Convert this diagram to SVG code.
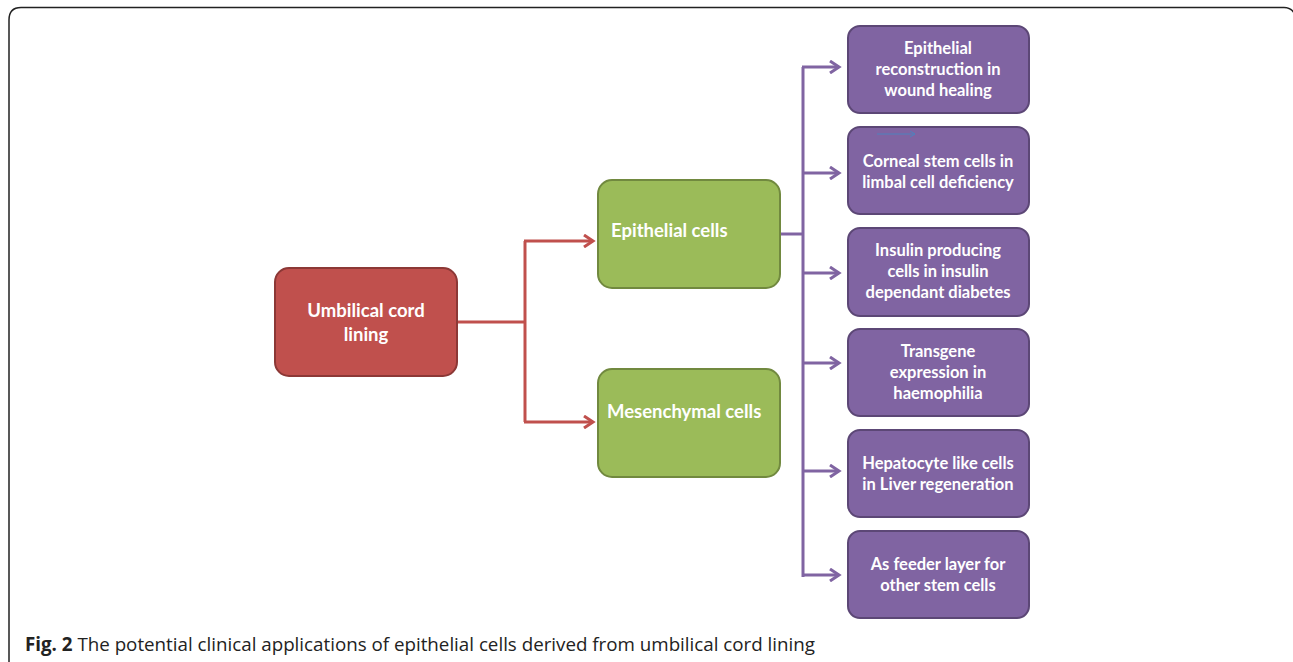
<svg xmlns="http://www.w3.org/2000/svg" width="1293" height="662" viewBox="0 0 1293 662">
<style>
.t{font-family:Lato,"Open Sans","Liberation Sans",sans-serif;font-weight:bold;fill:#fff}
.p rect{fill:#8064A2;stroke:#5C4776;stroke-width:2}
.g rect{fill:#9BBB59;stroke:#71893F;stroke-width:2}
.r rect{fill:#C0504D;stroke:#8C3836;stroke-width:2}
.pt{font-size:16.5px;text-anchor:middle}
.bt{font-size:18.5px}
.rl{fill:none;stroke:#C0504D;stroke-width:3}
.pl{fill:none;stroke:#8064A2;stroke-width:3}
</style>
<defs>
<marker id="ar" markerWidth="14" markerHeight="14" refX="11" refY="7" orient="auto" markerUnits="userSpaceOnUse">
<path d="M2,1 L11,7 L2,13" fill="none" stroke="#C0504D" stroke-width="3"/>
</marker>
<marker id="ap" markerWidth="14" markerHeight="14" refX="11" refY="7" orient="auto" markerUnits="userSpaceOnUse">
<path d="M2,1 L11,7 L2,13" fill="none" stroke="#8064A2" stroke-width="3"/>
</marker>
<marker id="ab" markerWidth="8" markerHeight="8" refX="6" refY="4" orient="auto" markerUnits="userSpaceOnUse">
<path d="M1,1 L6,4 L1,7" fill="none" stroke="#4F81BD" stroke-width="1"/>
</marker>
</defs>
<rect width="1293" height="662" fill="#fff"/>
<path d="M9,662 L9,20 Q9,7.5 21,7.5 L1284,7.5 Q1291,7.5 1294,13" fill="none" stroke="#222" stroke-width="1.5"/>

<g id="connectors">
<path class="rl" d="M457,322 H525"/>
<path class="rl" d="M525,241 V422"/>
<path class="rl" d="M524,241 H593" marker-end="url(#ar)"/>
<path class="rl" d="M524,422 H593" marker-end="url(#ar)"/>
<path class="pl" d="M780,234 H803"/>
<path class="pl" d="M803,67 V577"/>
<path class="pl" d="M802,67 H839" marker-end="url(#ap)"/>
<path class="pl" d="M802,173 H839" marker-end="url(#ap)"/>
<path class="pl" d="M802,273 H839" marker-end="url(#ap)"/>
<path class="pl" d="M802,363 H839" marker-end="url(#ap)"/>
<path class="pl" d="M802,471 H839" marker-end="url(#ap)"/>
<path class="pl" d="M802,575 H839" marker-end="url(#ap)"/>
</g>

<g id="umbilical" class="r">
<rect x="275" y="268" width="182" height="108" rx="14"/>
<text class="t bt" x="366" y="317" text-anchor="middle">Umbilical cord</text>
<text class="t bt" x="366" y="341" text-anchor="middle">lining</text>
</g>
<g id="epithelial" class="g">
<rect x="598" y="180" width="182" height="108" rx="14"/>
<text class="t bt" x="611" y="237">Epithelial cells</text>
</g>
<g id="mesenchymal" class="g">
<rect x="598" y="369" width="182" height="108" rx="14"/>
<text class="t bt" x="607" y="418">Mesenchymal cells</text>
</g>

<g id="app1" class="p">
<rect x="848" y="26" width="181" height="87" rx="12"/>
<text class="t pt" x="938" y="54">Epithelial</text>
<text class="t pt" x="938" y="75">reconstruction in</text>
<text class="t pt" x="938" y="96">wound healing</text>
</g>
<g id="app2" class="p">
<rect x="848" y="127" width="181" height="87" rx="12"/>
<path d="M877,134 H915" stroke="#4F81BD" stroke-width="1" fill="none" marker-end="url(#ab)"/>
<text class="t pt" x="938" y="167">Corneal stem cells in</text>
<text class="t pt" x="938" y="188">limbal cell deficiency</text>
</g>
<g id="app3" class="p">
<rect x="848" y="228" width="181" height="88" rx="12"/>
<text class="t pt" x="938" y="256">Insulin producing</text>
<text class="t pt" x="938" y="277">cells in insulin</text>
<text class="t pt" x="938" y="298">dependant diabetes</text>
</g>
<g id="app4" class="p">
<rect x="848" y="329" width="181" height="87" rx="12"/>
<text class="t pt" x="938" y="357">Transgene</text>
<text class="t pt" x="938" y="378">expression in</text>
<text class="t pt" x="938" y="399">haemophilia</text>
</g>
<g id="app5" class="p">
<rect x="848" y="430" width="181" height="87" rx="12"/>
<text class="t pt" x="938" y="469">Hepatocyte like cells</text>
<text class="t pt" x="938" y="490">in Liver regeneration</text>
</g>
<g id="app6" class="p">
<rect x="848" y="531" width="181" height="87" rx="12"/>
<text class="t pt" x="938" y="570">As feeder layer for</text>
<text class="t pt" x="938" y="591">other stem cells</text>
</g>

<text x="25" y="651" font-family="'Open Sans','Liberation Sans',sans-serif" font-size="19" fill="#222" textLength="790" lengthAdjust="spacingAndGlyphs"><tspan font-weight="bold">Fig. 2</tspan> The potential clinical applications of epithelial cells derived from umbilical cord lining</text>
</svg>
